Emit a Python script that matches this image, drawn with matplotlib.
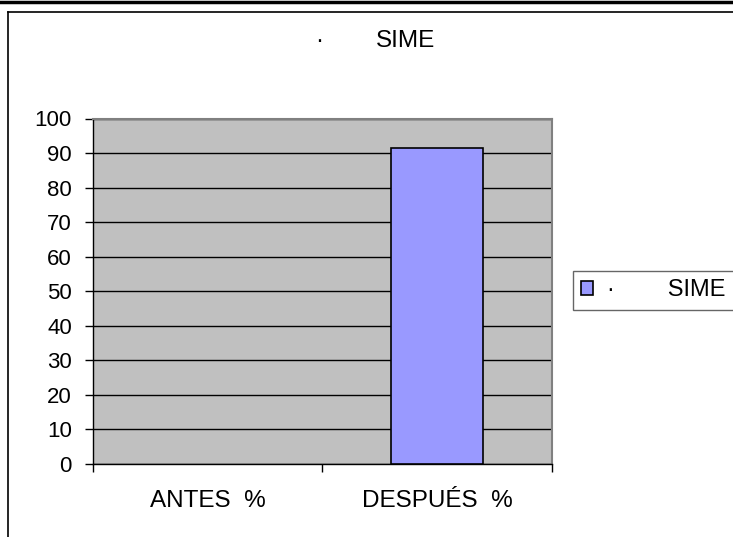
import matplotlib.pyplot as plt
from matplotlib.lines import Line2D

plt.rcParams['font.family'] = ['Liberation Sans', 'DejaVu Sans']

# data
categories = ['ANTES  %', 'DESPUÉS  %']
values = [0, 91.5]
series_name = 'SIME'
yticks = list(range(0, 101, 10))

fig = plt.figure(figsize=(7.33, 5.37), dpi=100)
ax = fig.add_axes([92.7 / 733, 1 - 464 / 537, 459 / 733, 345.5 / 537])
ax.set_facecolor('#C0C0C0')

x = list(range(len(categories)))
# excel draws nothing for a zero bar
lw = [0 if v == 0 else 1.2 for v in values]
ax.bar(x, values, width=0.4, color='#9999FF', edgecolor='black', linewidth=lw,
       label='·        ' + series_name, zorder=3)

ax.set_xlim(-0.5, len(categories) - 0.5)
ax.set_ylim(0, 100)
ax.set_yticks(yticks)
ax.yaxis.grid(True, color='black', linewidth=1, zorder=1)
ax.set_axisbelow(True)

# category labels between boundary ticks
ax.set_xticks(x)
ax.set_xticklabels(categories, fontsize=17.5)
ax.tick_params(axis='x', which='major', length=0, pad=19)
ax.set_xticks([i - 0.5 for i in range(len(categories) + 1)], minor=True)
ax.tick_params(axis='x', which='minor', length=6, width=1, direction='out')
ax.tick_params(axis='y', length=6, width=1, direction='out', pad=9, labelsize=16)

for s in ['top', 'right']:
    ax.spines[s].set_color('#808080')
    ax.spines[s].set_linewidth(1.5)
for s in ['left', 'bottom']:
    ax.spines[s].set_color('black')
    ax.spines[s].set_linewidth(1)

# title
fig.text(315 / 733, 1 - 41 / 537, '·', fontsize=17.5, va='center', ha='left')
fig.text(376 / 733, 1 - 41 / 537, series_name, fontsize=17.5, va='center', ha='left')

# legend
leg = fig.legend(loc='center left', bbox_to_anchor=(573 / 733, 1 - 290.5 / 537),
                 fontsize=17, frameon=True, fancybox=False, borderpad=0.35,
                 handlelength=0.5, handleheight=0.5, handletextpad=0.6,
                 borderaxespad=0)
leg.get_frame().set_edgecolor('#404040')
leg.get_frame().set_linewidth(1)
for h in leg.legend_handles:
    h.set_edgecolor('black')
    h.set_linewidth(1.2)

# outer frame lines
fig.add_artist(Line2D([0, 1], [1 - 1.5 / 537, 1 - 1.5 / 537], color='black', linewidth=2.5))
fig.add_artist(Line2D([7.5 / 733, 1], [1 - 11.5 / 537, 1 - 11.5 / 537], color='black', linewidth=1.2))
fig.add_artist(Line2D([7.5 / 733, 7.5 / 733], [0, 1 - 11.5 / 537], color='black', linewidth=1.2))

fig.savefig('out.png', dpi=100)
